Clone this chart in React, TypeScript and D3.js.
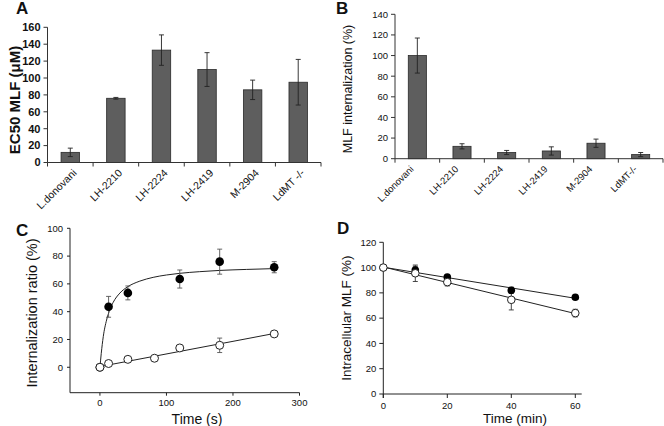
import React from "react";
import * as d3 from "d3";

const FONT = "'Liberation Sans', Arial, Helvetica, sans-serif";

// Panel A
const strainsA = ["L.donovani", "LH-2210", "LH-2224", "LH-2419", "M-2904", "LdMT -/-"];
const ec50Values = [12, 76, 133, 110, 86, 95];
const ec50Errors = [5, 1, 18, 20, 11.5, 27];
const ticksA = [0, 20, 40, 60, 80, 100, 120, 140, 160];

// Panel B
const strainsB = ["L.donovani", "LH-2210", "LH-2224", "LH-2419", "M-2904", "LdMT-/-"];
const internalValues = [100, 12, 6, 7.5, 15, 4];
const internalErrors = [17, 2.5, 2, 4, 4, 2];
const ticksB = [0, 20, 40, 60, 80, 100, 120, 140];

// Panel C
const cClosedTime = [0, 13, 42, 120, 180, 262];
const cClosedValue = [0, 43.5, 53.5, 63.5, 76, 72];
const cClosedError = [0, 7.5, 5, 6.5, 9, 4];
const cOpenTime = [0, 13, 42, 82, 120, 180, 262];
const cOpenValue = [0, 2.7, 5.7, 6.5, 13.9, 15.8, 24];
const cOpenError = [0, 0, 0, 0, 0, 5.2, 0];
const cFitClosedTime = [0, 2, 5, 10, 15, 20, 30, 42, 60, 80, 100, 120, 150, 180, 220, 262];
const cFitClosedValue = [0, 10, 22, 34, 41.6, 46.8, 53.4, 58, 62, 64.7, 66.4, 67.6, 68.8, 69.7, 70.4, 71];
const cFitOpenTime = [0, 262];
const cFitOpenValue = [0.5, 24.3];
const cTicksX = [0, 100, 200, 300];
const cTicksY = [0, 20, 40, 60, 80, 100];

// Panel D
const dTime = [0, 10, 20, 40, 60];
const dClosedValue = [100, 98, 92.5, 82, 76.5];
const dClosedError = [0, 3, 1.5, 2.5, 1.5];
const dOpenValue = [100, 95.5, 88.5, 74.5, 64];
const dOpenError = [0, 6.5, 3, 8, 3];
const dFitTime = [0, 61];
const dFitClosedValue = [100.3, 75.3];
const dFitOpenValue = [100.5, 63];
const dTicksX = [0, 20, 40, 60];
const dTicksY = [0, 20, 40, 60, 80, 100, 120];

function BarPanel(props: any) {
  const { cats, values, errs, ticks, xRange, yRange, yMax, tickFont, tickWeight, catFont, catDx, catDy, label, labelX, labelY, labelFont, labelWeight, letter, letterX, letterY } = props;
  const x = d3.scaleBand<string>().domain(cats).range(xRange).paddingInner(0.595).paddingOuter(0.2975);
  const y = d3.scaleLinear().domain([0, yMax]).range(yRange);
  const step = x.step();
  const y0 = y(0);
  return (
    <g>
      {values.map((v: number, i: number) => (
        <rect key={"b" + i} x={x(cats[i])} y={y(v)} width={x.bandwidth()} height={y0 - y(v)} fill="#5e5e5e" stroke="#2a2a2a" strokeWidth={0.8} />
      ))}
      {values.map((v: number, i: number) => {
        const cx = (x(cats[i]) as number) + x.bandwidth() / 2;
        const e = errs[i];
        return (
          <g key={"e" + i} stroke="#222" strokeWidth={0.9}>
            <line x1={cx} x2={cx} y1={y(v - e)} y2={y(v + e)} />
            <line x1={cx - 2.5} x2={cx + 2.5} y1={y(v - e)} y2={y(v - e)} />
            <line x1={cx - 2.5} x2={cx + 2.5} y1={y(v + e)} y2={y(v + e)} />
          </g>
        );
      })}
      <line x1={xRange[0]} x2={xRange[0]} y1={y(yMax)} y2={y0} stroke="#333" strokeWidth={1} />
      <line x1={xRange[0]} x2={xRange[1]} y1={y0} y2={y0} stroke="#333" strokeWidth={1} />
      {ticks.map((t: number) => (
        <g key={"t" + t}>
          <line x1={xRange[0] - 4} x2={xRange[0]} y1={y(t)} y2={y(t)} stroke="#333" />
          <text x={xRange[0] - 7} y={y(t)} dy="0.35em" textAnchor="end" fontSize={tickFont} fontWeight={tickWeight} fill="#111">{t}</text>
        </g>
      ))}
      {d3.range(cats.length + 1).map((k) => (
        <line key={"xt" + k} x1={xRange[0] + k * step} x2={xRange[0] + k * step} y1={y0} y2={y0 + 4} stroke="#333" />
      ))}
      {cats.map((c: string) => {
        const cx = (x(c) as number) + x.bandwidth() / 2;
        return (
          <text key={"c" + c} transform={`translate(${cx + catDx},${y0 + catDy}) rotate(-45)`} textAnchor="end" fontSize={catFont} fill="#111">{c}</text>
        );
      })}
      <text transform={`translate(${labelX},${labelY}) rotate(-90)`} textAnchor="middle" fontSize={labelFont} fontWeight={labelWeight} fill="#111">{label}</text>
      <text x={letterX} y={letterY} fontSize={17} fontWeight="bold" fill="#111">{letter}</text>
    </g>
  );
}

function ErrorBar({ cx, yLo, yHi, color }: any) {
  return (
    <g stroke={color} strokeWidth={0.9}>
      <line x1={cx} x2={cx} y1={yLo} y2={yHi} />
      <line x1={cx - 2.5} x2={cx + 2.5} y1={yLo} y2={yLo} />
      <line x1={cx - 2.5} x2={cx + 2.5} y1={yHi} y2={yHi} />
    </g>
  );
}

function PanelC() {
  const x = d3.scaleLinear().domain([-45, 300]).range([70, 299.5]);
  const y = d3.scaleLinear().domain([-18.3, 100]).range([392.7, 228.3]);
  const fitLine = d3.line<number>().x((_, i) => x(cFitClosedTime[i])).y((v) => y(v)).curve(d3.curveMonotoneX);
  const openLine = d3.line<number>().x((_, i) => x(cFitOpenTime[i])).y((v) => y(v));
  const yb = y(-18.3);
  return (
    <g>
      <line x1={x(-45)} x2={x(-45)} y1={y(100)} y2={yb} stroke="#222" />
      <line x1={x(-45)} x2={x(300)} y1={yb} y2={yb} stroke="#222" />
      {cTicksY.map((t) => (
        <g key={"cy" + t}>
          <line x1={x(-45) - 3} x2={x(-45)} y1={y(t)} y2={y(t)} stroke="#222" />
          <text x={x(-45) - 7} y={y(t)} dy="0.35em" textAnchor="end" fontSize={9.5} fill="#111">{t}</text>
        </g>
      ))}
      {cTicksX.map((t) => (
        <g key={"cx" + t}>
          <line x1={x(t)} x2={x(t)} y1={yb} y2={yb + 3} stroke="#222" />
          <text x={x(t)} y={yb + 13.5} textAnchor="middle" fontSize={9.5} fill="#111">{t}</text>
        </g>
      ))}
      <path d={fitLine(cFitClosedValue) as string} fill="none" stroke="#222" strokeWidth={1} />
      <path d={openLine(cFitOpenValue) as string} fill="none" stroke="#222" strokeWidth={1} />
      {cClosedTime.map((t, i) => cClosedError[i] > 0 ? (
        <ErrorBar key={"ce" + i} cx={x(t)} yLo={y(cClosedValue[i] - cClosedError[i])} yHi={y(cClosedValue[i] + cClosedError[i])} color="#555" />
      ) : null)}
      {cOpenTime.map((t, i) => cOpenError[i] > 0 ? (
        <ErrorBar key={"oe" + i} cx={x(t)} yLo={y(cOpenValue[i] - cOpenError[i])} yHi={y(cOpenValue[i] + cOpenError[i])} color="#555" />
      ) : null)}
      {cClosedTime.map((t, i) => (
        <circle key={"cc" + i} cx={x(t)} cy={y(cClosedValue[i])} r={4.3} fill="#000" />
      ))}
      {cOpenTime.map((t, i) => (
        <circle key={"co" + i} cx={x(t)} cy={y(cOpenValue[i])} r={4} fill="#fff" stroke="#222" strokeWidth={1} />
      ))}
      <text x={197} y={424} textAnchor="middle" fontSize={14} fill="#111">Time (s)</text>
      <text transform={`translate(37,313) rotate(-90)`} textAnchor="middle" fontSize={14.5} fill="#111">Internalization ratio (%)</text>
      <text x={16} y={236} fontSize={17} fontWeight="bold" fill="#111">C</text>
    </g>
  );
}

function PanelD() {
  const x = d3.scaleLinear().domain([0, 62]).range([383.3, 581.7]);
  const y = d3.scaleLinear().domain([0, 120]).range([394, 242.3]);
  const line = d3.line<number>().x((_, i) => x(dFitTime[i])).y((v) => y(v));
  const yb = y(0);
  return (
    <g>
      <line x1={x(0)} x2={x(0)} y1={y(120)} y2={yb + 4} stroke="#222" />
      <line x1={x(0)} x2={x(62)} y1={yb} y2={yb} stroke="#222" />
      {dTicksY.map((t) => (
        <g key={"dy" + t}>
          <line x1={x(0) - 4} x2={x(0)} y1={y(t)} y2={y(t)} stroke="#222" />
          <text x={x(0) - 7} y={y(t)} dy="0.35em" textAnchor="end" fontSize={9.5} fill="#111">{t}</text>
        </g>
      ))}
      {dTicksX.map((t) => (
        <g key={"dx" + t}>
          <line x1={x(t)} x2={x(t)} y1={yb} y2={yb + 4} stroke="#222" />
          <text x={x(t)} y={yb + 15} textAnchor="middle" fontSize={9.5} fill="#111">{t}</text>
        </g>
      ))}
      <path d={line(dFitClosedValue) as string} fill="none" stroke="#222" strokeWidth={1} />
      <path d={line(dFitOpenValue) as string} fill="none" stroke="#222" strokeWidth={1} />
      {dTime.map((t, i) => dClosedError[i] > 0 ? (
        <ErrorBar key={"dce" + i} cx={x(t)} yLo={y(dClosedValue[i] - dClosedError[i])} yHi={y(dClosedValue[i] + dClosedError[i])} color="#333" />
      ) : null)}
      {dTime.map((t, i) => dOpenError[i] > 0 ? (
        <ErrorBar key={"doe" + i} cx={x(t)} yLo={y(dOpenValue[i] - dOpenError[i])} yHi={y(dOpenValue[i] + dOpenError[i])} color="#333" />
      ) : null)}
      {dTime.map((t, i) => (
        <circle key={"dc" + i} cx={x(t)} cy={y(dClosedValue[i])} r={3.8} fill="#000" />
      ))}
      {dTime.map((t, i) => (
        <circle key={"do" + i} cx={x(t)} cy={y(dOpenValue[i])} r={3.8} fill="#fff" stroke="#222" strokeWidth={1} />
      ))}
      <text x={515} y={423} textAnchor="middle" fontSize={13.5} fill="#111">Time (min)</text>
      <text transform={`translate(351,${(y(120) + yb) / 2}) rotate(-90)`} textAnchor="middle" fontSize={13.5} fill="#111">Intracellular MLF (%)</text>
      <text x={337} y={234} fontSize={17} fontWeight="bold" fill="#111">D</text>
    </g>
  );
}

export default function App() {
  return (
    <svg width={664} height={426} style={{ position: "absolute", left: 0, top: 0, background: "#fff" }} fontFamily={FONT}>
      <rect width={664} height={426} fill="#fff" />
      <BarPanel cats={strainsA} values={ec50Values} errs={ec50Errors} ticks={ticksA} xRange={[47.5, 321]} yRange={[162.5, 27.3]} yMax={160}
        tickFont={11} tickWeight="bold" catFont={10.5} catDx={7} catDy={11}
        label="EC50  MLF (μM)" labelX={20} labelY={100} labelFont={15} labelWeight="bold" letter="A" letterX={16} letterY={14} />
      <BarPanel cats={strainsB} values={internalValues} errs={internalErrors} ticks={ticksB} xRange={[395, 663]} yRange={[158.7, 14.3]} yMax={140}
        tickFont={9.5} tickWeight="normal" catFont={9.5} catDx={-3} catDy={11}
        label="MLF internalization (%)" labelX={352} labelY={89} labelFont={12.5} labelWeight="normal" letter="B" letterX={336} letterY={14} />
      <PanelC />
      <PanelD />
    </svg>
  );
}
